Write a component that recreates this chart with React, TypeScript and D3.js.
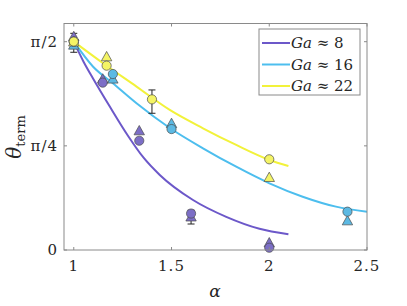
import React from "react";
import * as d3 from "d3";

// fitted curves: [alpha, theta]
const curveGa8: [number, number][] = [
  [1.0, 1.571], [1.05, 1.42], [1.1, 1.29], [1.185, 1.08], [1.278, 0.86],
  [1.355, 0.7], [1.44, 0.566], [1.61, 0.377], [1.78, 0.25], [1.95, 0.16], [2.098, 0.118],
];
const curveGa16: [number, number][] = [
  [1.0, 1.571], [1.099, 1.382], [1.2, 1.257], [1.321, 1.106], [1.491, 0.92],
  [1.661, 0.767], [1.831, 0.628], [2.001, 0.503], [2.171, 0.402], [2.341, 0.327], [2.5, 0.289],
];
const curveGa22: [number, number][] = [
  [1.0, 1.571], [1.15, 1.408], [1.321, 1.232], [1.491, 1.056], [1.661, 0.918],
  [1.831, 0.792], [2.001, 0.679], [2.098, 0.633],
];

// measurements: circles and triangles
const circlesGa8: [number, number][] = [[1.0, 1.571], [1.148, 1.262], [1.335, 0.824], [1.6, 0.275], [2.0, 0.017]];
const trianglesGa8: [number, number][] = [[1.0, 1.61], [1.148, 1.29], [1.335, 0.9], [1.6, 0.25], [2.0, 0.055]];
const circlesGa16: [number, number][] = [[1.0, 1.571], [1.2, 1.327], [1.5, 0.912], [2.4, 0.289]];
const trianglesGa16: [number, number][] = [[1.0, 1.546], [1.2, 1.29], [1.5, 0.955], [2.4, 0.221]];
const circlesGa22: [number, number][] = [[1.0, 1.572], [1.168, 1.39], [1.4, 1.136], [2.0, 0.684]];
const trianglesGa22: [number, number][] = [[1.0, 1.57], [1.168, 1.458], [2.0, 0.548]];

// error bars: [alpha, low, high]
const errorBars: [number, number, number][] = [
  [1.0, 1.491, 1.634],
  [1.4, 1.031, 1.207],
  [1.6, 0.196, 0.3],
];

const xTicks = [1, 1.5, 2, 2.5];
const xTickLabels = ["1", "1.5", "2", "2.5"];
const yTicks = [0, Math.PI / 4, Math.PI / 2];
const yTickLabels = ["0", "π/4", "π/2"];
const legendLabels = ["8", "16", "22"];

const lineColors = ["#6c58c9", "#4dbeee", "#f2f23a"];
const markerColors = ["#7c6ec6", "#5cb9e3", "#f4f465"];

export default function App() {
  const W = 407, H = 306;
  const L = 64, R = 367, T = 23.5, B = 250;
  const x = d3.scaleLinear().domain([0.95, 2.5]).range([L, R]);
  const y = d3.scaleLinear().domain([0, 1.708]).range([B, T]);
  const line = d3.line<[number, number]>().x((d) => x(d[0])).y((d) => y(d[1])).curve(d3.curveMonotoneX);
  const axisColor = "#8a8a8a";
  const font = "'DejaVu Serif', serif";

  const curves = [curveGa8, curveGa16, curveGa22];
  const circles = [circlesGa8, circlesGa16, circlesGa22];
  const triangles = [trianglesGa8, trianglesGa16, trianglesGa22];

  const tri = (cx: number, cy: number) => {
    const s = 5.2;
    return `M${cx},${cy - s}L${cx + s},${cy + s * 0.8}L${cx - s},${cy + s * 0.8}Z`;
  };

  return (
    <svg width={W} height={H} style={{ position: "absolute", left: 0, top: 0, background: "#fff" }}>
      <rect x={L} y={T} width={R - L} height={B - T} fill="#fff" />
      {curves.map((c, i) => (
        <path key={"c" + i} d={line(c) || ""} fill="none" stroke={lineColors[i]} strokeWidth={2} />
      ))}
      {errorBars.map((e, i) => (
        <g key={"e" + i} stroke="#222" strokeWidth={1}>
          <line x1={x(e[0])} x2={x(e[0])} y1={y(e[1])} y2={y(e[2])} />
          <line x1={x(e[0]) - 3.5} x2={x(e[0]) + 3.5} y1={y(e[1])} y2={y(e[1])} />
          <line x1={x(e[0]) - 3.5} x2={x(e[0]) + 3.5} y1={y(e[2])} y2={y(e[2])} />
        </g>
      ))}
      {[0, 1, 2].map((i) => (
        <g key={"m" + i} stroke="#4a4a4a" strokeWidth={0.7}>
          {triangles[i].map((p, j) => (
            <path key={"t" + j} d={tri(x(p[0]), y(p[1]))} fill={markerColors[i]} />
          ))}
          {circles[i].map((p, j) => (
            <circle key={"o" + j} cx={x(p[0])} cy={y(p[1])} r={4.6} fill={markerColors[i]} />
          ))}
        </g>
      ))}
      {/* axes box */}
      <rect x={L} y={T} width={R - L} height={B - T} fill="none" stroke={axisColor} strokeWidth={1} />
      {xTicks.map((t, i) => (
        <g key={"xt" + i}>
          <line x1={x(t)} x2={x(t)} y1={B} y2={B - 3} stroke={axisColor} />
          <line x1={x(t)} x2={x(t)} y1={T} y2={T + 3} stroke={axisColor} />
          <text x={x(t)} y={B + 21} textAnchor="middle" fontFamily={font} fontSize={15} fill="#262626" letterSpacing={1}>
            {xTickLabels[i]}
          </text>
        </g>
      ))}
      {yTicks.map((t, i) => (
        <g key={"yt" + i}>
          <line x1={L} x2={L + 3} y1={y(t)} y2={y(t)} stroke={axisColor} />
          <line x1={R} x2={R - 3} y1={y(t)} y2={y(t)} stroke={axisColor} />
          <text x={L - 6} y={y(t) + 5} textAnchor="end" fontFamily={font} fontSize={15} fill="#262626" letterSpacing={1}>
            {yTickLabels[i]}
          </text>
        </g>
      ))}
      <text x={215} y={297} textAnchor="middle" fontFamily={font} fontStyle="italic" fontSize={17} fill="#262626">
        α
      </text>
      <text transform="translate(21,137) rotate(-90)" textAnchor="middle" fontFamily={font} fill="#262626">
        <tspan fontStyle="italic" fontSize={20}>θ</tspan>
        <tspan fontSize={13} dy={4}>term</tspan>
      </text>
      {/* legend */}
      <rect x={259} y={29} width={101} height={66} fill="#fff" stroke={axisColor} strokeWidth={1} />
      {legendLabels.map((g, i) => {
        const ly = 43 + i * 21.5;
        return (
          <g key={"l" + i}>
            <line x1={262} x2={290} y1={ly} y2={ly} stroke={lineColors[i]} strokeWidth={2} />
            <text x={291} y={ly + 5} fontFamily={font} fontSize={15} fill="#262626">
              <tspan fontStyle="italic">Ga</tspan> ≈ {g}
            </text>
          </g>
        );
      })}
    </svg>
  );
}
